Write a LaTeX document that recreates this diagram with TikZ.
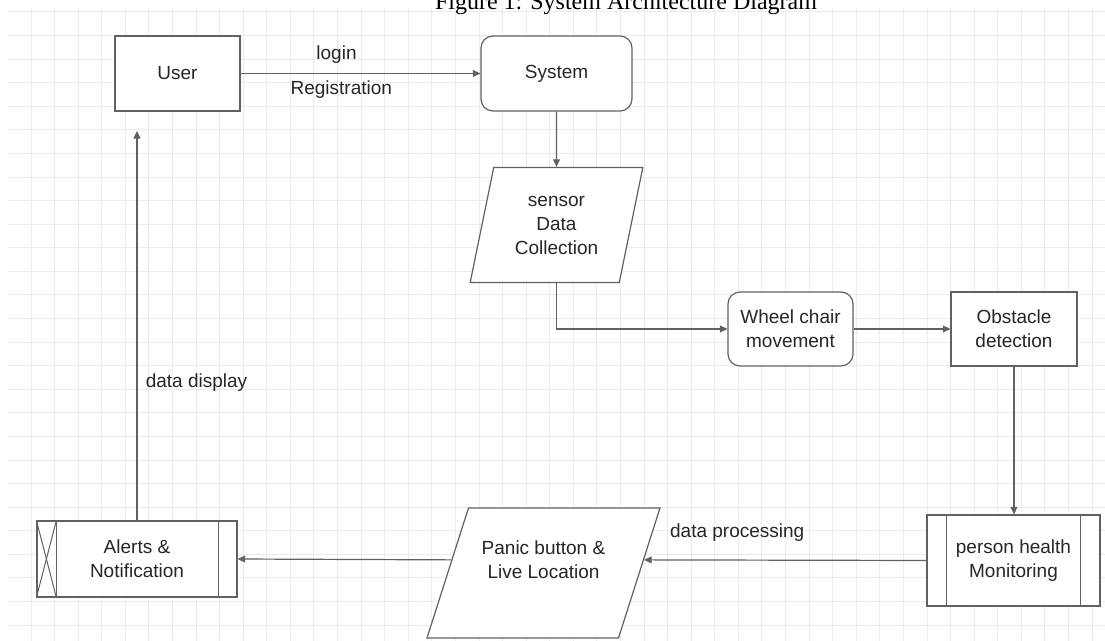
\documentclass[tikz,border=0pt]{standalone}
\usepackage{fontspec}
\setmainfont{Liberation Sans}
\newfontfamily\capfont{Liberation Serif}
\usetikzlibrary{shapes.geometric,arrows.meta,calc}
\begin{document}
\begin{tikzpicture}[x=0.5pt,y=-0.5pt,
  box/.style={draw=black!62, line width=0.6pt, fill=white, text=black!85, align=center, inner sep=0pt, font=\fontsize{9.5}{12}\selectfont},
  rbox/.style={box, rounded corners=6pt},
  para/.style={box, trapezium, trapezium left angle=75, trapezium right angle=105, trapezium stretches=true},
  arr/.style={draw=black!62, line width=0.6pt, -{Triangle[length=3.8pt,width=3.5pt]}},
  lbl/.style={text=black!85, font=\fontsize{9.5}{12}\selectfont, inner sep=0pt, align=center},
  gridline/.style={draw=black!8, line width=0.5pt},
]
\clip (0,0) rectangle (1105,641);
\fill[white] (0,0) rectangle (1105,641);
% grid
\foreach \i in {0,...,45} \draw[gridline] ({31+23.58*\i},8) -- ({31+23.58*\i},641);
\foreach \j in {0,...,26} \draw[gridline] (8,{12+23.58*\j}) -- (1105,{12+23.58*\j});
% caption (top cut off by the page edge)
\node[anchor=base, inner sep=0pt, font=\capfont\fontsize{12}{14}\selectfont] (cap) at (626,10) {Figure 1: System Architecture Diagram};

% nodes
\node[box, minimum width=62.5pt, minimum height=37.5pt] (user) at (177.5,73.5) {User};
\node[rbox, minimum width=75.5pt, minimum height=37.5pt] (system) at (556.5,73.5) {System};
\node[para, minimum width=86.5pt, minimum height=57.5pt] (sensor) at (556.5,225) {sensor\\Data\\Collection};
\node[rbox, minimum width=62.5pt, minimum height=37pt] (wheel) at (790.5,329) {Wheel chair\\movement};
\node[box, minimum width=63pt, minimum height=37pt] (obst) at (1014,329) {Obstacle\\detection};
\node[box, minimum width=86.5pt, minimum height=45.5pt] (ph) at (1013.5,560.5) {person health\\Monitoring};
\node[para, minimum width=116.5pt, minimum height=65pt,
      label={[lbl, anchor=center, label distance=-26pt]90:Panic button \&\\Live Location}] (panic) at (543.5,573) {\phantom{X}};
\node[box, minimum width=100pt, minimum height=38pt] (alerts) at (137,559) {Alerts \&\\Notification};

% compartments
\draw[draw=black!62, line width=0.6pt] ([xshift=10pt]ph.north west) -- ([xshift=10pt]ph.south west);
\draw[draw=black!62, line width=0.6pt] ([xshift=-10pt]ph.north east) -- ([xshift=-10pt]ph.south east);
\draw[draw=black!62, line width=0.6pt] ([xshift=10pt]alerts.north west) -- ([xshift=10pt]alerts.south west);
\draw[draw=black!62, line width=0.6pt] ([xshift=-9.5pt]alerts.north east) -- ([xshift=-9.5pt]alerts.south east);
\draw[draw=black!62, line width=0.5pt] (alerts.north west) -- ([xshift=10pt]alerts.south west);
\draw[draw=black!62, line width=0.5pt] ([xshift=10pt]alerts.north west) -- (alerts.south west);

% connectors
\coordinate (ua) at (136,131);
\draw[arr] (user.east) -- (system.west)
  node[lbl, pos=0.40, yshift=9.5pt] {login}
  node[lbl, pos=0.42, yshift=-8pt] {Registration};
\draw[arr] (system.south) -- (sensor.north);
\draw[arr] (sensor.south) |- (wheel.west);
\draw[arr] (wheel.east) -- (obst.west);
\draw[arr] (obst.south) -- (obst.south |- ph.north);
\draw[arr] (ph.west) -- ($(panic.bottom right corner)!0.6!(panic.top right corner)$)
  node[lbl, pos=0.67, yshift=13.5pt] {data processing};
\draw[arr] ($(panic.bottom left corner)!0.6!(panic.top left corner)$) -- (alerts.east);
\draw[arr] (alerts.north) -- (alerts.north |- ua)
  node[lbl, pos=0.354, xshift=29.75pt] {data display};
\end{tikzpicture}
\end{document}
